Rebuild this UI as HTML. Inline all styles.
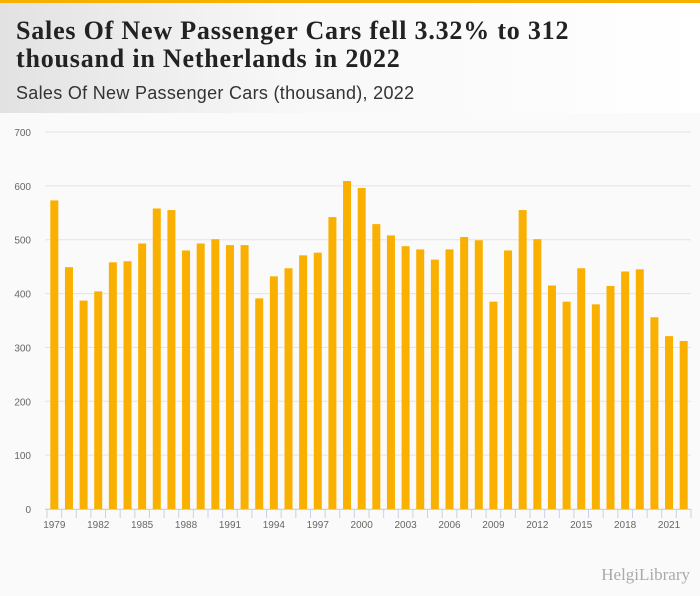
<!DOCTYPE html>
<html><head><meta charset="utf-8"><style>
body{margin:0;width:700px;height:596px;overflow:hidden;background:#fafafa;font-family:"Liberation Sans",sans-serif;}
#hdr{position:absolute;left:0;top:0;width:700px;height:113px;background:linear-gradient(90deg,#e2e2e2 0%,#f7f7f7 40%,#fff 100%);border-top:3px solid #f7b000;box-sizing:border-box;}
h1{position:absolute;left:16px;top:14px;margin:0;font-family:"Liberation Serif",serif;font-size:26px;letter-spacing:0.8px;line-height:28px;color:#222;font-weight:bold;}
#sub{position:absolute;left:16px;top:80px;font-size:18px;letter-spacing:0.3px;color:#333;}
svg{position:absolute;left:0;top:0;}
</style></head><body>
<div id="hdr">
<h1>Sales Of New Passenger Cars fell 3.32% to 312<br>thousand in Netherlands in 2022</h1>
<div id="sub">Sales Of New Passenger Cars (thousand), 2022</div>
</div>
<svg id="chart" width="700" height="596"></svg>
<script>
const years=[];for(let y=1979;y<=2022;y++)years.push(y);
const values=[573,449,387,404,458,460,493,558,555,480,493,501,490,490,391,432,447,471,476,542,609,596,529,508,488,482,463,482,505,499,385,480,555,501,415,385,447,380,414,441,445,356,321,312];
const yTicks=[0,100,200,300,400,500,600,700];
const xLabels=[1979,1982,1985,1988,1991,1994,1997,2000,2003,2006,2009,2012,2015,2018,2021];
const NS="http://www.w3.org/2000/svg",svg=document.getElementById('chart');
const x0=47,x1=691,y0=509,yTop=132;
const band=(x1-x0)/years.length;
const ys=v=>y0-(v/700)*(y0-yTop);
const xc=i=>x0+band*(i+0.5);
function mk(t,a,p){const e=document.createElementNS(NS,t);for(const k in a)e.setAttribute(k,a[k]);(p||svg).appendChild(e);return e;}
yTicks.forEach(t=>{
 const l=mk('line',{x1:x0-2,x2:x1,y1:ys(t),y2:ys(t),stroke:'#e3e3e3','stroke-width':1});
 
 
 const tx=mk('text',{x:31,y:ys(t)+4,'text-anchor':'end','font-size':10,fill:'#666'});tx.textContent=t;
 
 
});
const ax=mk('line',{x1:x0-2,x2:x1,y1:y0+0.5,y2:y0+0.5,stroke:'#c8d2e6','stroke-width':1});


years.forEach((yr,i)=>{
 const r=mk('rect',{x:xc(i)-4,y:ys(values[i]),width:8,height:y0-ys(values[i]),fill:'#f9b000'});
 
 
 const tk=mk('line',{x1:x0+band*i,x2:x0+band*i,y1:y0,y2:y0+9,stroke:'#c8d2e6'});
 
 
});
mk('line',{x1:x1,x2:x1,y1:y0,y2:y0+9,stroke:'#c8d2e6'});
xLabels.forEach(yr=>{
 const i=years.indexOf(yr);
 const t=mk('text',{x:xc(i),y:528,'text-anchor':'middle','font-size':10,fill:'#666'});t.textContent=yr;
 
 
});
const lg=mk('text',{x:690,y:580,'text-anchor':'end','font-size':17,fill:'#aaa','font-family':'Liberation Serif,serif'});lg.textContent='HelgiLibrary';


</script>
</body></html>
